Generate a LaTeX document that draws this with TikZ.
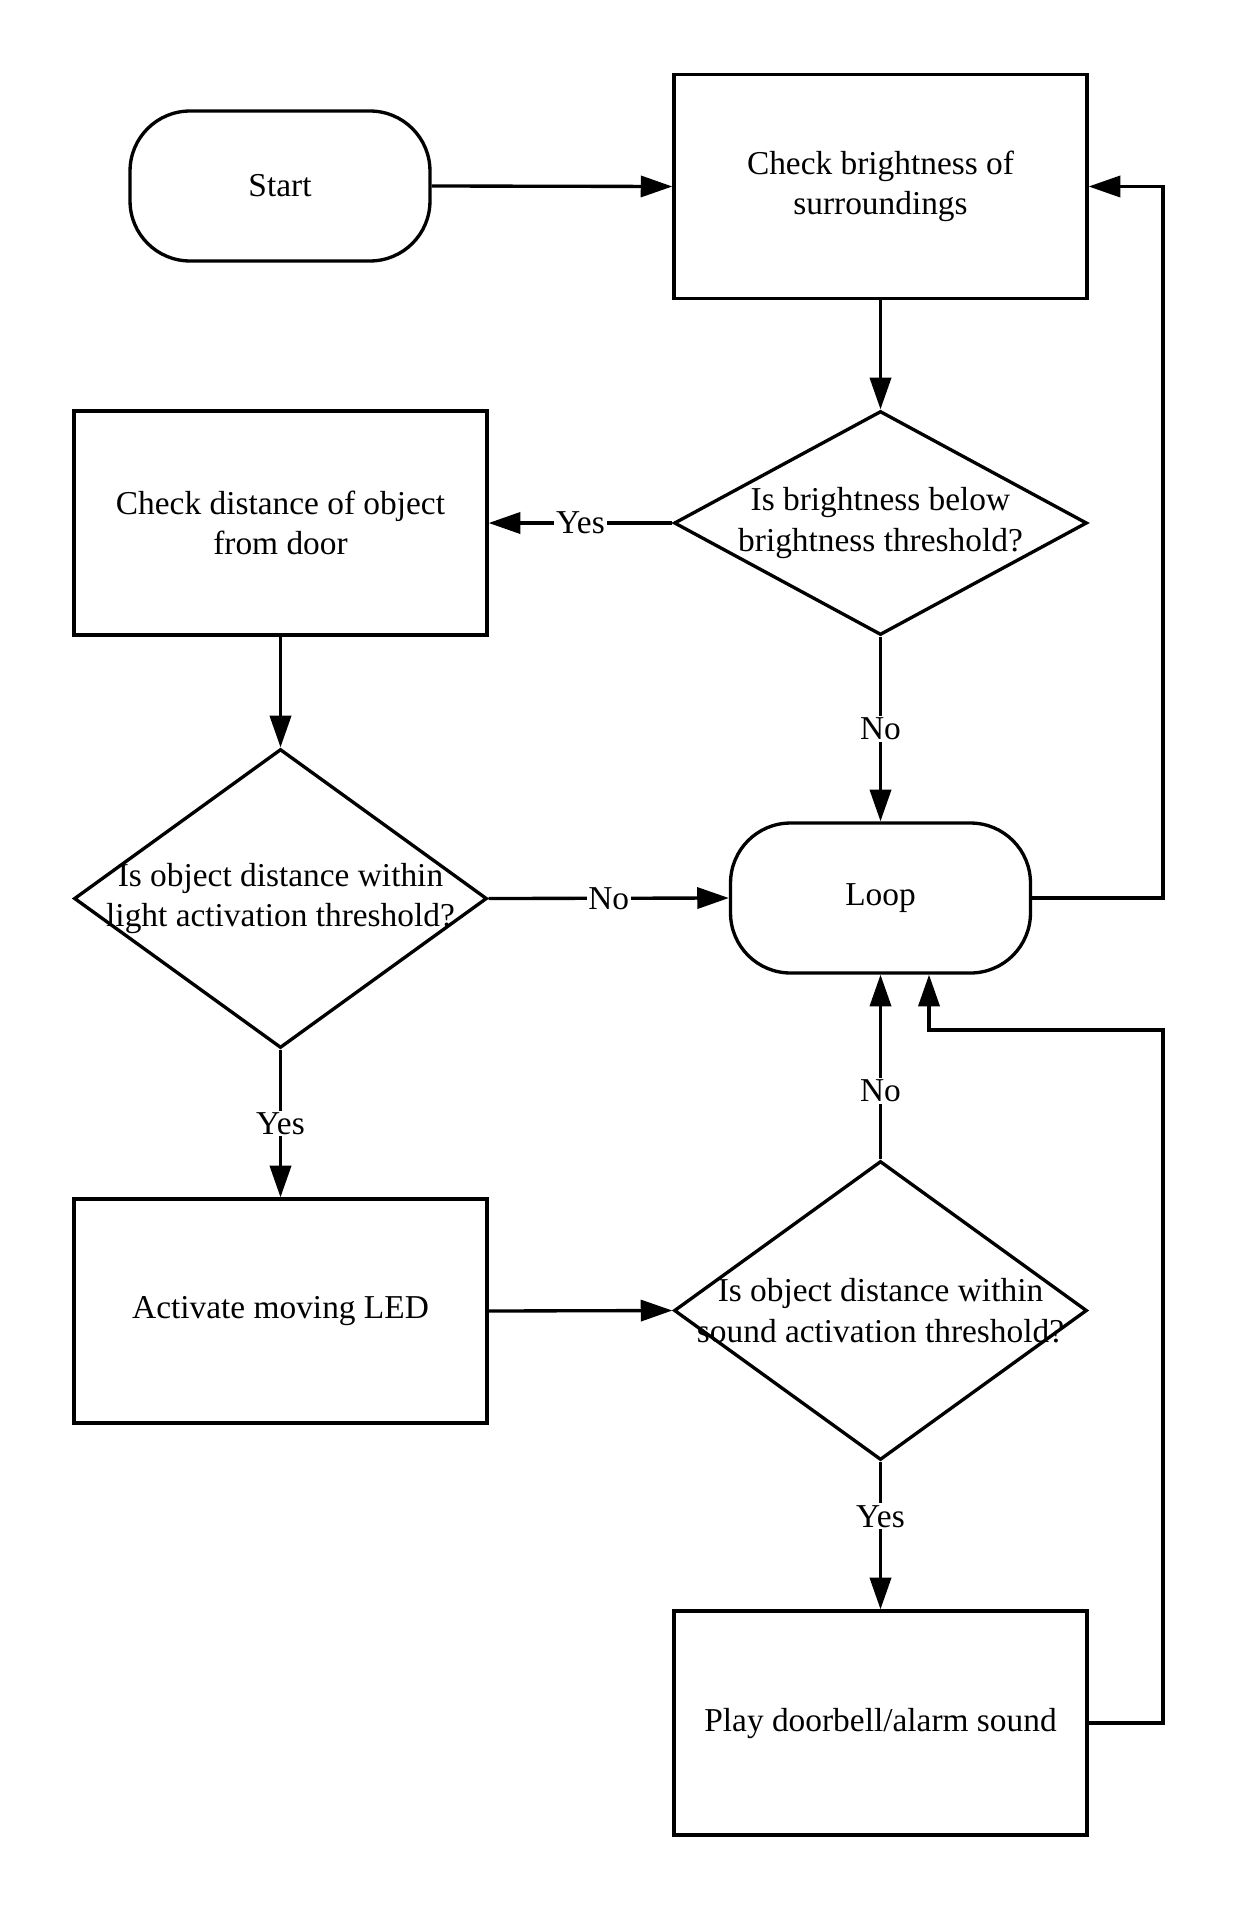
\documentclass[tikz,border=0pt]{standalone}
\usepackage{fontspec}
\setmainfont{Liberation Serif}
\usetikzlibrary{arrows.meta,positioning,shapes.geometric}
\tikzset{
    every node/.style={font=\fontsize{19}{23}\selectfont},
    procbox/.style={
        draw, line width=1.9pt,
        minimum width=8.26cm, minimum height=4.48cm,
        align=center, sharp corners
    },
    termbox/.style={
        draw, line width=1.9pt, rounded corners=1.2cm,
        minimum width=6cm, minimum height=3cm
    },
    decision/.style={
        draw, diamond, line width=1.9pt, inner sep=0pt,
        minimum width=8.26cm, minimum height=#1
    },
    decisiontext/.style={align=center, inner sep=0pt},
    flowarrow/.style={
        -{Triangle[length=18pt,width=12pt]}, line width=1.9pt
    },
    answer/.style={fill=white, inner sep=1pt},
}

\begin{document}
\begin{tikzpicture}[x=0.02cm, y=-0.02cm]
    \useasboundingbox (0,0) rectangle (1239,1913);

    % Terminals
    \node[termbox] (start) at (280,186) {Start};
    \node[termbox] (loop) at (880.5,898) {Loop};

    % Process steps
    \node[procbox] (brightness) at (880.5,186.5) {Check brightness of\\surroundings};
    \node[procbox] (distance) at (280.5,523) {Check distance of object\\from door};
    \node[procbox] (led) at (280.5,1311) {Activate moving LED};
    \node[procbox] (sound) at (880.5,1723) {Play doorbell/alarm sound};

    % Decisions
    \node[decision=4.48cm, label={[decisiontext]center:Is brightness below\\brightness threshold?}] (isdark) at (880.5,523) {};
    \node[decision=5.98cm, label={[decisiontext]center:Is object distance within\\light activation threshold?}] (islight) at (280.5,898.5) {};
    \node[decision=5.98cm, label={[decisiontext]center:Is object distance within\\sound activation threshold?}] (issound) at (880.5,1310.5) {};

    % Return rails
    \coordinate (rightrail) at (1163,500);
    \coordinate (soundrail) at (1163,1400);
    \coordinate (returnbend) at (929,1030);

    % Main flow
    \draw[flowarrow] (start.east) -- (brightness.west);
    \draw[flowarrow] (brightness.south) -- (isdark.north);
    \draw[flowarrow] (isdark.west) -- node[answer]{Yes} (distance.east);
    \draw[flowarrow] (isdark.south) -- node[answer]{No} (loop.north);
    \draw[flowarrow] (distance.south) -- (islight.north);
    \draw[flowarrow] (islight.east) -- node[answer]{No} (loop.west);
    \draw[flowarrow] (islight.south) -- node[answer]{Yes} (led.north);
    \draw[flowarrow] (led.east) -- (issound.west);
    \draw[flowarrow] (issound.north) -- node[answer, pos=0.37]{No} (loop.south);
    \draw[flowarrow] (issound.south) -- node[answer, pos=0.37]{Yes} (sound.north);

    % Loop back
    \draw[flowarrow] (loop.east) -| (rightrail) |- (brightness.east);
    \draw[flowarrow] (sound.east) -| (soundrail) |- (returnbend) -- (returnbend |- loop.south);
\end{tikzpicture}
\end{document}
